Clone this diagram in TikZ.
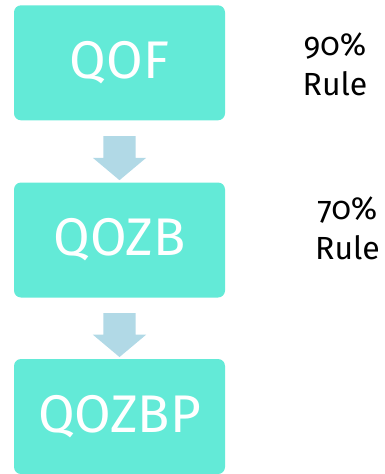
\documentclass[tikz,border=0pt]{standalone}
\usepackage{fontspec}
\setmainfont{Fira Sans}[Numbers=OldStyle]
\newfontfamily\stagefont{Fira Sans}
\usetikzlibrary{shapes.arrows,calc}
\definecolor{stagefill}{HTML}{63EAD7}
\definecolor{flowfill}{HTML}{B1D9E6}

\begin{document}
\begin{tikzpicture}[x=1pt,y=-1pt,
	stage/.style={fill=stagefill, rounded corners=7pt, minimum width=211pt, minimum height=115pt, inner sep=0pt, text=white, font=\stagefont\fontsize{53}{60}\selectfont},
	flow/.style={single arrow, fill=flowfill, rotate=-90, inner xsep=0pt, inner ysep=16pt, minimum height=44pt, single arrow head extend=10.5pt, single arrow tip angle=100},
	rule/.style={align=center, inner sep=0pt, font=\fontsize{32}{40}\selectfont}]

	\useasboundingbox (0,0) rectangle (384,474);

	% Stages
	\node [stage] (qof) at (119.5,62.8) {QOF};
	\node [stage] (qozb) at (119.5,240) {QOZB};
	\node [stage] (qozbp) at (119.5,416.5) {QOZBP};

	% Arrows between stages
	\node [flow] (qofqozb) at ($(qof.south)!0.5!(qozb.north)$) {};
	\node [flow] (qozbqozbp) at ($(qozb.south)!0.5!(qozbp.north)$) {};

	% Rules
	\node [rule] (ninety) at (335,64) {90\%\\Rule};
	\node [rule] (seventy) at (347.5,228) {70\%\\Rule};

\end{tikzpicture}
\end{document}
